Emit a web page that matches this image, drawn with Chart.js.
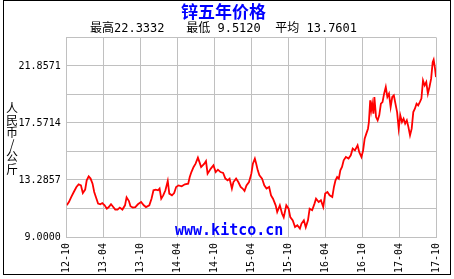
<!DOCTYPE html>
<html>
<head>
<meta charset="utf-8">
<script src="https://cdn.jsdelivr.net/npm/chart.js@4/dist/chart.umd.min.js"></script>
<style>
  html, body { margin: 0; padding: 0; background: #fff; }
  #wrap { width: 454px; height: 279px; }
</style>
</head>
<body>
<div id="wrap"><canvas id="zinc"></canvas></div>
<script>
// months since 2012-10
const months = [
    0.0, 0.36, 0.73, 1.15, 1.58, 1.94, 2.31, 2.62, 3.00, 3.25, 3.57, 3.88, 4.20, 4.47, 4.74,
    5.10, 5.46, 5.78, 6.16, 6.52, 6.84, 7.20, 7.47, 7.89, 8.26, 8.62, 9.05, 9.47, 9.73,
    10.11, 10.36, 10.74, 11.15, 11.57, 12.09, 12.52, 12.88, 13.42, 13.78, 14.10, 14.46,
    14.84, 15.09, 15.36, 15.68, 16.04, 16.42, 16.67, 17.10, 17.46, 17.78, 18.16, 18.68,
    19.20, 19.74, 19.99, 20.26, 20.62, 20.94, 21.32, 21.57, 21.84, 22.36, 22.63, 22.89,
    23.42, 23.84, 24.21, 24.57, 24.99, 25.42, 25.78, 26.15, 26.46, 26.84, 27.09, 27.52,
    27.88, 28.26, 28.58, 28.89, 29.21, 29.62, 30.00, 30.25, 30.57, 30.79, 31.04, 31.31,
    31.74, 32.10, 32.46, 32.89, 33.20, 33.52, 33.95, 34.20, 34.63, 34.99, 35.26, 35.68,
    36.05, 36.32, 36.73, 37.10, 37.47, 37.89, 38.15, 38.53, 38.84, 39.20, 39.47, 39.88,
    40.26, 40.51, 40.94, 41.30, 41.68, 42.00, 42.36, 42.72, 43.15, 43.42, 43.67, 43.94,
    44.21, 44.46, 44.73, 45.00, 45.36, 45.79, 46.15, 46.47, 46.83, 47.26, 47.53, 47.89,
    48.16, 48.41, 48.68, 48.95, 49.10, 49.31, 49.47, 49.63, 49.83, 49.99, 50.26, 50.52,
    50.78, 51.05, 51.31, 51.57, 51.84, 52.10, 52.36, 52.63, 52.89, 53.15, 53.41, 53.68,
    53.94, 54.20, 54.47, 54.73, 54.99, 55.26, 55.52, 55.78, 56.05, 56.31, 56.57, 56.84,
    57.10, 57.37, 57.63, 57.89, 58.16, 58.42, 58.68, 58.94, 59.21, 59.46, 59.62, 59.84, 60.0
];

const prices = [
    11.38, 11.63, 12.00, 12.38, 12.76, 12.96, 12.88, 12.30, 12.56, 13.26, 13.56, 13.39, 13.01, 12.38, 12.00,
    11.51, 11.46, 11.55, 11.38, 11.13, 11.25, 11.46, 11.31, 11.06, 11.06, 11.21, 11.06, 11.38, 11.98,
    11.70, 11.31, 11.21, 11.25, 11.46, 11.63, 11.38, 11.25, 11.38, 11.88, 12.51, 12.56,
    12.51, 12.64, 11.88, 12.13, 12.51, 13.21, 12.26, 12.13, 12.30, 12.76, 12.88, 12.81,
    12.96, 13.01, 13.51, 13.88, 14.26, 14.51, 14.96, 14.63, 14.26, 14.51, 14.71, 13.76,
    14.14, 14.39, 13.88, 14.06, 13.88, 13.81, 13.39, 13.26, 13.39, 12.64, 13.13, 13.39,
    13.13, 12.76, 12.64, 12.46, 12.88, 13.13, 13.76, 14.51, 14.89, 14.51, 14.01, 13.63,
    13.39, 12.88, 12.64, 12.76, 12.13, 11.88, 11.38, 10.88, 11.38, 10.76, 10.48, 11.38,
    11.13, 10.50, 10.25, 9.75, 9.88, 9.63, 10.01, 10.25, 9.73, 10.25, 11.13, 11.01,
    11.51, 11.88, 11.63, 11.76, 11.25, 12.26, 12.38, 12.13, 12.00, 12.76, 13.26, 13.51,
    13.39, 14.01, 14.26, 14.76, 15.01, 14.89, 15.14, 15.64, 15.51, 15.89, 15.38, 15.01,
    15.51, 16.39, 16.77, 17.14, 17.64, 19.27, 18.52, 19.02, 18.27, 19.52, 18.01, 17.77,
    18.14, 19.02, 19.14, 19.77, 20.27, 19.52, 19.77, 18.76, 19.52, 19.64, 19.02, 18.39,
    17.14, 18.14, 17.64, 17.89, 17.52, 17.77, 17.26, 16.64, 17.14, 18.39, 18.64, 19.02,
    18.89, 19.14, 19.40, 20.77, 20.39, 20.64, 19.77, 20.27, 20.90, 22.14, 22.33, 21.65, 21.02
];

const xLabels = ['12-10', '13-04', '13-10', '14-04', '14-10', '15-04', '15-10', '16-04', '16-10', '17-04', '17-10'];
const yMin = 9;
const yMax = 24;
const yAxisTitle = ['人', '民', '币', '/', '公', '斤'];
const titleText = '锌五年价格';
const statsText = '最高22.3332   最低 9.5120  平均 13.7601';
const watermark = 'www.kitco.cn';

const MONO = "'DejaVu Sans Mono', 'Noto Sans CJK SC', monospace";
const GRID = '#c0c0c0';

// extra drawing: stacked y title, watermark, outer frame
const decorations = {
    id: 'decorations',
    beforeDatasetsDraw(chart) {
        const ctx = chart.ctx;
        ctx.save();
        ctx.fillStyle = '#0000ff';
        ctx.font = "bold 15px 'DejaVu Sans Mono', monospace";
        ctx.textAlign = 'left';
        ctx.textBaseline = 'alphabetic';
        ctx.fillText(watermark, 175, 235);
        ctx.restore();
    },
    afterDraw(chart) {
        const ctx = chart.ctx;
        ctx.save();
        ctx.fillStyle = '#000';
        ctx.font = "12px 'Noto Sans CJK SC'";
        ctx.textAlign = 'center';
        ctx.textBaseline = 'middle';
        yAxisTitle.forEach((ch, i) => {
            ctx.fillText(ch, 12, 108 + i * 12.2);
        });

        ctx.fillStyle = '#fff';
        ctx.fillRect(451, 0, 3, 279);
        ctx.fillRect(0, 275, 454, 4);
        ctx.strokeStyle = '#000';
        ctx.lineWidth = 1;
        ctx.strokeRect(3.5, 0.5, 447, 274);
        ctx.restore();
    }
};

new Chart(document.getElementById('zinc'), {
    type: 'line',
    data: {
        datasets: [{
            data: months.map((m, i) => ({ x: m, y: prices[i] })),
            borderColor: '#ff0000',
            borderWidth: 1.8,
            pointRadius: 0,
            tension: 0,
            fill: false
        }]
    },
    options: {
        responsive: true,
        maintainAspectRatio: false,
        animation: false,
        layout: { padding: { left: 0, right: 7, top: 0, bottom: 0 } },
        plugins: {
            legend: { display: false },
            tooltip: { enabled: false },
            title: {
                display: true,
                text: titleText,
                color: '#0000ff',
                font: { family: "'Noto Sans CJK SC'", size: 17, weight: 'bold' },
                padding: { top: 1, bottom: 0 }
            },
            subtitle: {
                display: true,
                text: statsText,
                color: '#000',
                font: { family: MONO, size: 12 },
                padding: { top: 0, bottom: 1.6 }
            }
        },
        scales: {
            x: {
                type: 'linear',
                min: 0,
                max: 60,
                afterBuildTicks: scale => {
                    scale.ticks = xLabels.map((_, i) => ({ value: i * 6 }));
                },
                afterFit: scale => { scale.height = 42; },
                ticks: {
                    autoSkip: false,
                    minRotation: 90,
                    maxRotation: 90,
                    padding: 6,
                    color: '#000',
                    font: { family: MONO, size: 10 },
                    callback: value => xLabels[Math.round(value / 6)]
                },
                grid: { color: GRID, drawTicks: false },
                border: { color: GRID }
            },
            y: {
                min: yMin,
                max: yMax,
                afterBuildTicks: scale => {
                    const step = (yMax - yMin) / 7;
                    scale.ticks = [0, 1, 2, 3, 4, 5, 6, 7].map(k => ({ value: yMin + k * step }));
                },
                afterFit: scale => { scale.width = 66.7; },
                ticks: {
                    padding: 6,
                    color: '#000',
                    font: { family: MONO, size: 10 },
                    callback: function (value, index) {
                        return index % 2 === 0 ? value.toFixed(4) : '';
                    }
                },
                grid: { color: GRID, drawTicks: false },
                border: { color: GRID }
            }
        }
    },
    plugins: [decorations]
});
</script>
</body>
</html>
